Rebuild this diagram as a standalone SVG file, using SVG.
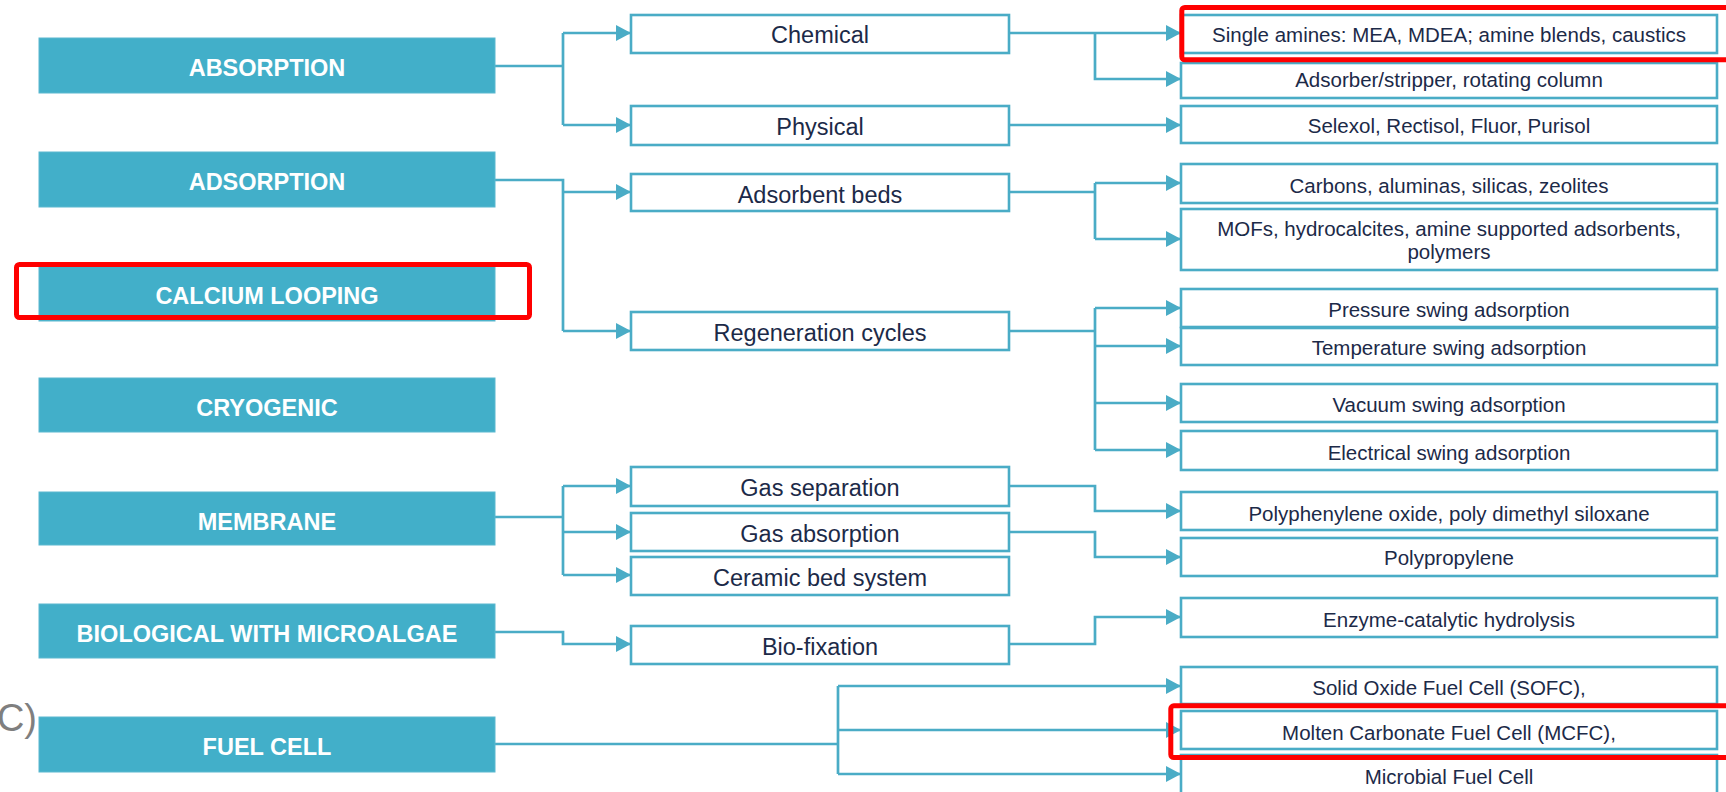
<svg xmlns="http://www.w3.org/2000/svg" width="1726" height="792" viewBox="0 0 1726 792">
<defs>
<style>
.cat rect{fill:#42afc9;stroke:#5bb8cf;stroke-width:1}
.cat text{fill:#fff;font-family:"Liberation Sans",Arial,sans-serif;font-weight:bold;font-size:23.5px;text-anchor:middle}
.sub rect,.leaf rect{fill:#fff;stroke:#4aacc6;stroke-width:2.6}
.sub text{fill:#1c2a48;font-family:"Liberation Sans",Arial,sans-serif;font-size:23.5px;text-anchor:middle}
.leaf text{fill:#1c2a48;font-family:"Liberation Sans",Arial,sans-serif;font-size:20.5px;text-anchor:middle}
#connectors path{fill:none;stroke:#4aacc6;stroke-width:2.7}
#connectors path.a{marker-end:url(#arr)}
.hl{fill:none;stroke:#ff0000;stroke-width:5}
</style>
<marker id="arr" markerUnits="userSpaceOnUse" markerWidth="16" markerHeight="16" refX="15" refY="8" orient="auto">
<path d="M0,0 L15,8 L0,16 z" fill="#4aacc6"/>
</marker>
</defs>
<rect width="1726" height="792" fill="#fff"/>

<text x="37" y="731" font-family="'Liberation Sans',Arial,sans-serif" font-size="38" fill="#7f7f7f" text-anchor="end">C)</text>

<g id="connectors">
<path d="M495,66 H563 M563,33 V125"/>
<path class="a" d="M563,33 H631"/>
<path class="a" d="M563,125 H631"/>
<path d="M495,180 H563 V331"/>
<path class="a" d="M563,192 H631"/>
<path class="a" d="M563,331 H631"/>
<path d="M495,517 H563 M563,486 V575"/>
<path class="a" d="M563,486 H631"/>
<path class="a" d="M563,532 H631"/>
<path class="a" d="M563,575 H631"/>
<path class="a" d="M495,632 H563 V644 H631"/>
<path d="M495,744 H838 M838,686 V774"/>
<path class="a" d="M838,686 H1181"/>
<path class="a" d="M838,730 H1181"/>
<path class="a" d="M838,774 H1181"/>
<path class="a" d="M1009,33 H1181"/>
<path class="a" d="M1095,33 V79 H1181"/>
<path class="a" d="M1009,125 H1181"/>
<path d="M1009,192 H1095 M1095,183 V239"/>
<path class="a" d="M1095,183 H1181"/>
<path class="a" d="M1095,239 H1181"/>
<path d="M1009,331 H1095 M1095,308 V450"/>
<path class="a" d="M1095,308 H1181"/>
<path class="a" d="M1095,346 H1181"/>
<path class="a" d="M1095,403 H1181"/>
<path class="a" d="M1095,450 H1181"/>
<path class="a" d="M1009,486 H1095 V511 H1181"/>
<path class="a" d="M1009,532 H1095 V557 H1181"/>
<path class="a" d="M1009,644 H1095 V617 H1181"/>
</g>

<g id="absorption" class="cat"><rect x="39" y="38" width="456" height="55"/><text x="267" y="76">ABSORPTION</text></g>
<g id="adsorption" class="cat"><rect x="39" y="152" width="456" height="55"/><text x="267" y="190">ADSORPTION</text></g>
<g id="calcium-looping" class="cat"><rect x="39" y="266" width="456" height="55"/><text x="267" y="304">CALCIUM LOOPING</text></g>
<g id="cryogenic" class="cat"><rect x="39" y="378" width="456" height="54"/><text x="267" y="416">CRYOGENIC</text></g>
<g id="membrane" class="cat"><rect x="39" y="492" width="456" height="53"/><text x="267" y="530">MEMBRANE</text></g>
<g id="biological" class="cat"><rect x="39" y="604" width="456" height="54"/><text x="267" y="642">BIOLOGICAL WITH MICROALGAE</text></g>
<g id="fuel-cell" class="cat"><rect x="39" y="717" width="456" height="55"/><text x="267" y="755">FUEL CELL</text></g>

<g id="chemical" class="sub"><rect x="631" y="15" width="378" height="38"/><text x="820" y="43">Chemical</text></g>
<g id="physical" class="sub"><rect x="631" y="106" width="378" height="39"/><text x="820" y="135">Physical</text></g>
<g id="adsorbent-beds" class="sub"><rect x="631" y="174" width="378" height="37"/><text x="820" y="203">Adsorbent beds</text></g>
<g id="regeneration-cycles" class="sub"><rect x="631" y="312" width="378" height="38"/><text x="820" y="341">Regeneration cycles</text></g>
<g id="gas-separation" class="sub"><rect x="631" y="467" width="378" height="39"/><text x="820" y="496">Gas separation</text></g>
<g id="gas-absorption" class="sub"><rect x="631" y="513" width="378" height="38"/><text x="820" y="542">Gas absorption</text></g>
<g id="ceramic-bed" class="sub"><rect x="631" y="557" width="378" height="38"/><text x="820" y="586">Ceramic bed system</text></g>
<g id="bio-fixation" class="sub"><rect x="631" y="626" width="378" height="38"/><text x="820" y="655">Bio-fixation</text></g>

<g id="single-amines" class="leaf"><rect x="1181" y="15" width="536" height="38"/><text x="1449" y="42">Single amines: MEA, MDEA; amine blends,  caustics</text></g>
<g id="adsorber-stripper" class="leaf"><rect x="1181" y="63" width="536" height="35"/><text x="1449" y="87">Adsorber/stripper, rotating column</text></g>
<g id="selexol" class="leaf"><rect x="1181" y="106" width="536" height="37"/><text x="1449" y="133">Selexol, Rectisol, Fluor, Purisol</text></g>
<g id="carbons" class="leaf"><rect x="1181" y="164" width="536" height="39"/><text x="1449" y="193">Carbons, aluminas, silicas, zeolites</text></g>
<g id="mofs" class="leaf"><rect x="1181" y="209" width="536" height="61"/><text x="1449" y="236">MOFs, hydrocalcites, amine supported adsorbents,</text><text x="1449" y="259">polymers</text></g>
<g id="pressure-swing" class="leaf"><rect x="1181" y="289" width="536" height="38"/><text x="1449" y="317">Pressure swing adsorption</text></g>
<g id="temperature-swing" class="leaf"><rect x="1181" y="328" width="536" height="37"/><text x="1449" y="355">Temperature swing adsorption</text></g>
<g id="vacuum-swing" class="leaf"><rect x="1181" y="384" width="536" height="38"/><text x="1449" y="412">Vacuum swing adsorption</text></g>
<g id="electrical-swing" class="leaf"><rect x="1181" y="431" width="536" height="39"/><text x="1449" y="460">Electrical swing adsorption</text></g>
<g id="polyphenylene" class="leaf"><rect x="1181" y="492" width="536" height="38"/><text x="1449" y="521">Polyphenylene oxide, poly dimethyl siloxane</text></g>
<g id="polypropylene" class="leaf"><rect x="1181" y="538" width="536" height="38"/><text x="1449" y="565">Polypropylene</text></g>
<g id="enzyme" class="leaf"><rect x="1181" y="598" width="536" height="39"/><text x="1449" y="627">Enzyme-catalytic hydrolysis</text></g>
<g id="sofc" class="leaf"><rect x="1181" y="667" width="536" height="37"/><text x="1449" y="695">Solid Oxide Fuel Cell (SOFC),</text></g>
<g id="mcfc" class="leaf"><rect x="1181" y="711" width="536" height="38"/><text x="1449" y="740">Molten Carbonate Fuel Cell (MCFC),</text></g>
<g id="microbial" class="leaf"><rect x="1181" y="755" width="536" height="40"/><text x="1449" y="784">Microbial Fuel Cell</text></g>

<g id="highlights">
<rect class="hl" x="16.5" y="264.5" width="513" height="53" rx="3"/>
<rect class="hl" x="1181.8" y="7.5" width="600" height="52.3" rx="3"/>
<rect class="hl" x="1170.8" y="705.8" width="600" height="51.7" rx="3"/>
</g>
</svg>
